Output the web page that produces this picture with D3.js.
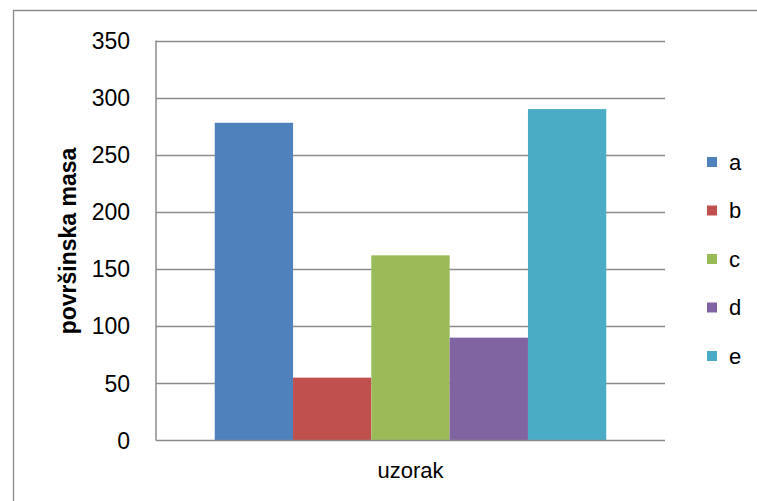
<!DOCTYPE html>
<html>
<head>
<meta charset="utf-8">
<script src="https://cdn.jsdelivr.net/npm/d3@7"></script>
<style>
  html, body { margin: 0; padding: 0; background: #fff; }
  svg { display: block; }
  text { font-family: "Liberation Sans", Arial, sans-serif; fill: #000; }
</style>
</head>
<body>
<div id="chart"></div>
<script>
// Surface mass per sample series
const series = ["a", "b", "c", "d", "e"];
const values = [278, 55, 162, 90, 290];
const colors = ["#4f81bd", "#c0504d", "#9bbb59", "#8064a2", "#4bacc6"];
const yTicks = [0, 50, 100, 150, 200, 250, 300, 350];
const categoryLabel = "uzorak";
const yTitle = "površinska masa";

const W = 757, H = 501;
const plot = { left: 156, right: 665, top: 40.5, bottom: 440.5 };

const svg = d3.select("#chart").append("svg")
  .attr("width", W).attr("height", H);

// chart frame (top and left edges visible)
svg.append("path")
  .attr("d", `M13.5,${H} V10.5 H${W}`)
  .attr("fill", "none").attr("stroke", "#8c8c8c").attr("stroke-width", 1.3);

const y = d3.scaleLinear().domain([0, 350]).range([plot.bottom, plot.top]);
const x = d3.scaleBand().domain(series)
  .range([plot.left, plot.right]).paddingInner(0).paddingOuter(0.75);

// gridlines
svg.append("g").selectAll("line").data(yTicks.filter(t => t > 0)).join("line")
  .attr("x1", plot.left).attr("x2", plot.right)
  .attr("y1", d => Math.round(y(d)) + 0.5).attr("y2", d => Math.round(y(d)) + 0.5)
  .attr("stroke", "#8c8c8c").attr("stroke-width", 1.5);

// bars
svg.append("g").selectAll("rect").data(series).join("rect")
  .attr("x", d => x(d)).attr("width", x.bandwidth())
  .attr("y", (d, i) => y(values[i]))
  .attr("height", (d, i) => plot.bottom - y(values[i]))
  .attr("fill", (d, i) => colors[i]);

// axes lines
svg.append("line")
  .attr("x1", plot.left).attr("x2", plot.left)
  .attr("y1", plot.top).attr("y2", plot.bottom)
  .attr("stroke", "#8c8c8c").attr("stroke-width", 1.5);
svg.append("line")
  .attr("x1", plot.left).attr("x2", plot.right)
  .attr("y1", plot.bottom).attr("y2", plot.bottom)
  .attr("stroke", "#8c8c8c").attr("stroke-width", 1.5);

// y tick labels
svg.append("g").selectAll("text").data(yTicks).join("text")
  .attr("x", 130).attr("y", d => y(d))
  .attr("dy", "0.36em")
  .attr("text-anchor", "end")
  .attr("font-size", 23)
  .text(d => d);

// y axis title
svg.append("text")
  .attr("transform", `translate(76,241) rotate(-90)`)
  .attr("text-anchor", "middle")
  .attr("font-size", 23).attr("font-weight", "bold")
  .text(yTitle);

// x category label
svg.append("text")
  .attr("x", (plot.left + plot.right) / 2).attr("y", 478)
  .attr("text-anchor", "middle")
  .attr("font-size", 22)
  .text(categoryLabel);

// legend
const legend = svg.append("g").selectAll("g").data(series).join("g")
  .attr("transform", (d, i) => `translate(707,${157 + i * 48.5})`);
legend.append("rect").attr("width", 10).attr("height", 10)
  .attr("fill", (d, i) => colors[i]);
legend.append("text").attr("x", 22).attr("y", 5).attr("dy", "0.36em")
  .attr("font-size", 22).text(d => d);
</script>
</body>
</html>
